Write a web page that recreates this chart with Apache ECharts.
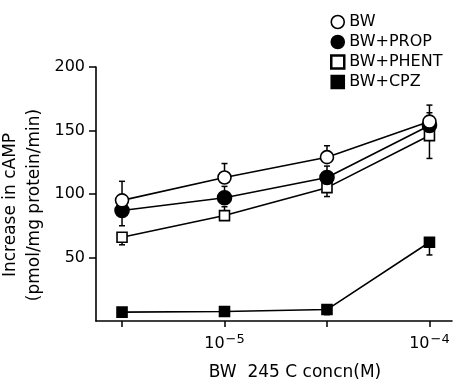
<!DOCTYPE html>
<html>
<head>
<meta charset="utf-8">
<script src="https://cdn.jsdelivr.net/npm/echarts@6/dist/echarts.min.js"></script>
<style>
  html, body { margin: 0; padding: 0; background: #fff; }
  #main { width: 457px; height: 384px; }
</style>
</head>
<body>
<div id="main"></div>
<script>
// log10 of BW 245 C concentration (M)
var logConc = [-5.5, -5, -4.5, -4];

var seriesNames = ['BW', 'BW+PROP', 'BW+PHENT', 'BW+CPZ'];

var bw = [95, 113, 129, 157];
var bwProp = [87, 97, 113, 154];
var bwPhent = [66, 83, 105, 146];
var bwCpz = [7, 7.5, 9, 62];

// end of each error bar (null = none visible)
var bwErr = [110, 124, 138, 170];
var bwPropErr = [75, 106, 122, 164];
var bwPhentErr = [60, 90, 98, 128];
var bwCpzErr = [null, null, 5, 52];

var yTicks = [50, 100, 150, 200];
var xLabelTicks = [-5, -4];

var font = 'DejaVu Sans';
var chart = echarts.init(document.getElementById('main'));

function pts(ys) {
  return logConc.map(function (x, i) { return [x, ys[i]]; });
}

function errSeries(ys, ends) {
  var data = [];
  logConc.forEach(function (x, i) {
    if (ends[i] != null) data.push([x, ys[i], ends[i]]);
  });
  return {
    type: 'custom',
    name: 'err',
    z: 1,
    data: data,
    renderItem: function (params, api) {
      var p0 = api.coord([api.value(0), api.value(1)]);
      var p1 = api.coord([api.value(0), api.value(2)]);
      var st = { stroke: '#000', lineWidth: 1.5 };
      return {
        type: 'group',
        children: [
          { type: 'line', shape: { x1: p0[0], y1: p0[1], x2: p1[0], y2: p1[1] }, style: st },
          { type: 'line', shape: { x1: p1[0] - 3, y1: p1[1], x2: p1[0] + 3, y2: p1[1] }, style: st }
        ]
      };
    }
  };
}

function lineSeries(name, ys, symbol, size, fill, z) {
  return {
    type: 'line',
    name: name,
    data: pts(ys),
    symbol: symbol,
    symbolSize: size,
    showAllSymbol: true,
    z: z,
    lineStyle: { color: '#000', width: 1.6 },
    itemStyle: { color: fill, borderColor: '#000', borderWidth: 1.6, opacity: 1 },
    emphasis: { disabled: true }
  };
}

var option = {
  backgroundColor: '#fff',
  animation: false,
  textStyle: { fontFamily: font, color: '#000' },
  grid: { left: 96, right: 5, top: 67, bottom: 63, outerBoundsMode: 'none', containLabel: false },
  legend: {
    orient: 'vertical',
    left: 325,
    top: 9,
    itemGap: 4,
    itemWidth: 13,
    itemHeight: 13,
    itemStyle: { borderColor: '#000', borderWidth: 1.6 },
    textStyle: { fontFamily: font, fontSize: 16, color: '#000' },
    data: [
      { name: seriesNames[0], icon: 'circle', itemStyle: { color: '#fff' } },
      { name: seriesNames[1], icon: 'circle', itemStyle: { color: '#000' } },
      { name: seriesNames[2], icon: 'rect', itemStyle: { color: '#fff', borderWidth: 2.5 } },
      { name: seriesNames[3], icon: 'rect', itemStyle: { color: '#000' } }
    ]
  },
  xAxis: {
    type: 'value',
    min: -5.627,
    max: -3.89,
    name: 'BW  245 C concn(M)',
    nameLocation: 'middle',
    nameGap: 43,
    nameTextStyle: { fontFamily: font, fontSize: 17, color: '#000', padding: [0, 0, 0, 42] },
    splitLine: { show: false },
    axisLine: { lineStyle: { color: '#000', width: 1.6 } },
    axisTick: { customValues: logConc, length: 6, lineStyle: { color: '#000', width: 1.5 } },
    axisLabel: {
      customValues: xLabelTicks,
      margin: 12,
      color: '#000',
      fontFamily: font,
      fontSize: 16,
      formatter: function (v) { return '10{sup|\u2212' + (-v) + '}'; },
      rich: {
        sup: { fontSize: 13, fontFamily: font, color: '#000', padding: [0, 0, 9, 1] }
      }
    }
  },
  yAxis: {
    type: 'value',
    min: 0,
    max: 200,
    name: 'Increase in cAMP\n(pmol/mg protein/min)',
    nameLocation: 'middle',
    nameGap: 49,
    nameMoveOverlap: false,
    nameTextStyle: { fontFamily: font, fontSize: 17, color: '#000', lineHeight: 24, padding: [0, 22, 0, 0] },
    splitLine: { show: false },
    axisLine: { lineStyle: { color: '#000', width: 1.6 } },
    axisTick: { customValues: yTicks, length: 7, lineStyle: { color: '#000', width: 1.5 } },
    axisLabel: { customValues: yTicks, margin: 11, color: '#000', fontFamily: font, fontSize: 16 }
  },
  series: [
    errSeries(bw, bwErr),
    errSeries(bwProp, bwPropErr),
    errSeries(bwPhent, bwPhentErr),
    errSeries(bwCpz, bwCpzErr),
    lineSeries(seriesNames[3], bwCpz, 'rect', 10, '#000', 2),
    lineSeries(seriesNames[2], bwPhent, 'rect', 10, '#fff', 3),
    lineSeries(seriesNames[1], bwProp, 'circle', 14, '#000', 4),
    lineSeries(seriesNames[0], bw, 'circle', 13, '#fff', 5)
  ]
};

chart.setOption(option);
</script>
</body>
</html>
